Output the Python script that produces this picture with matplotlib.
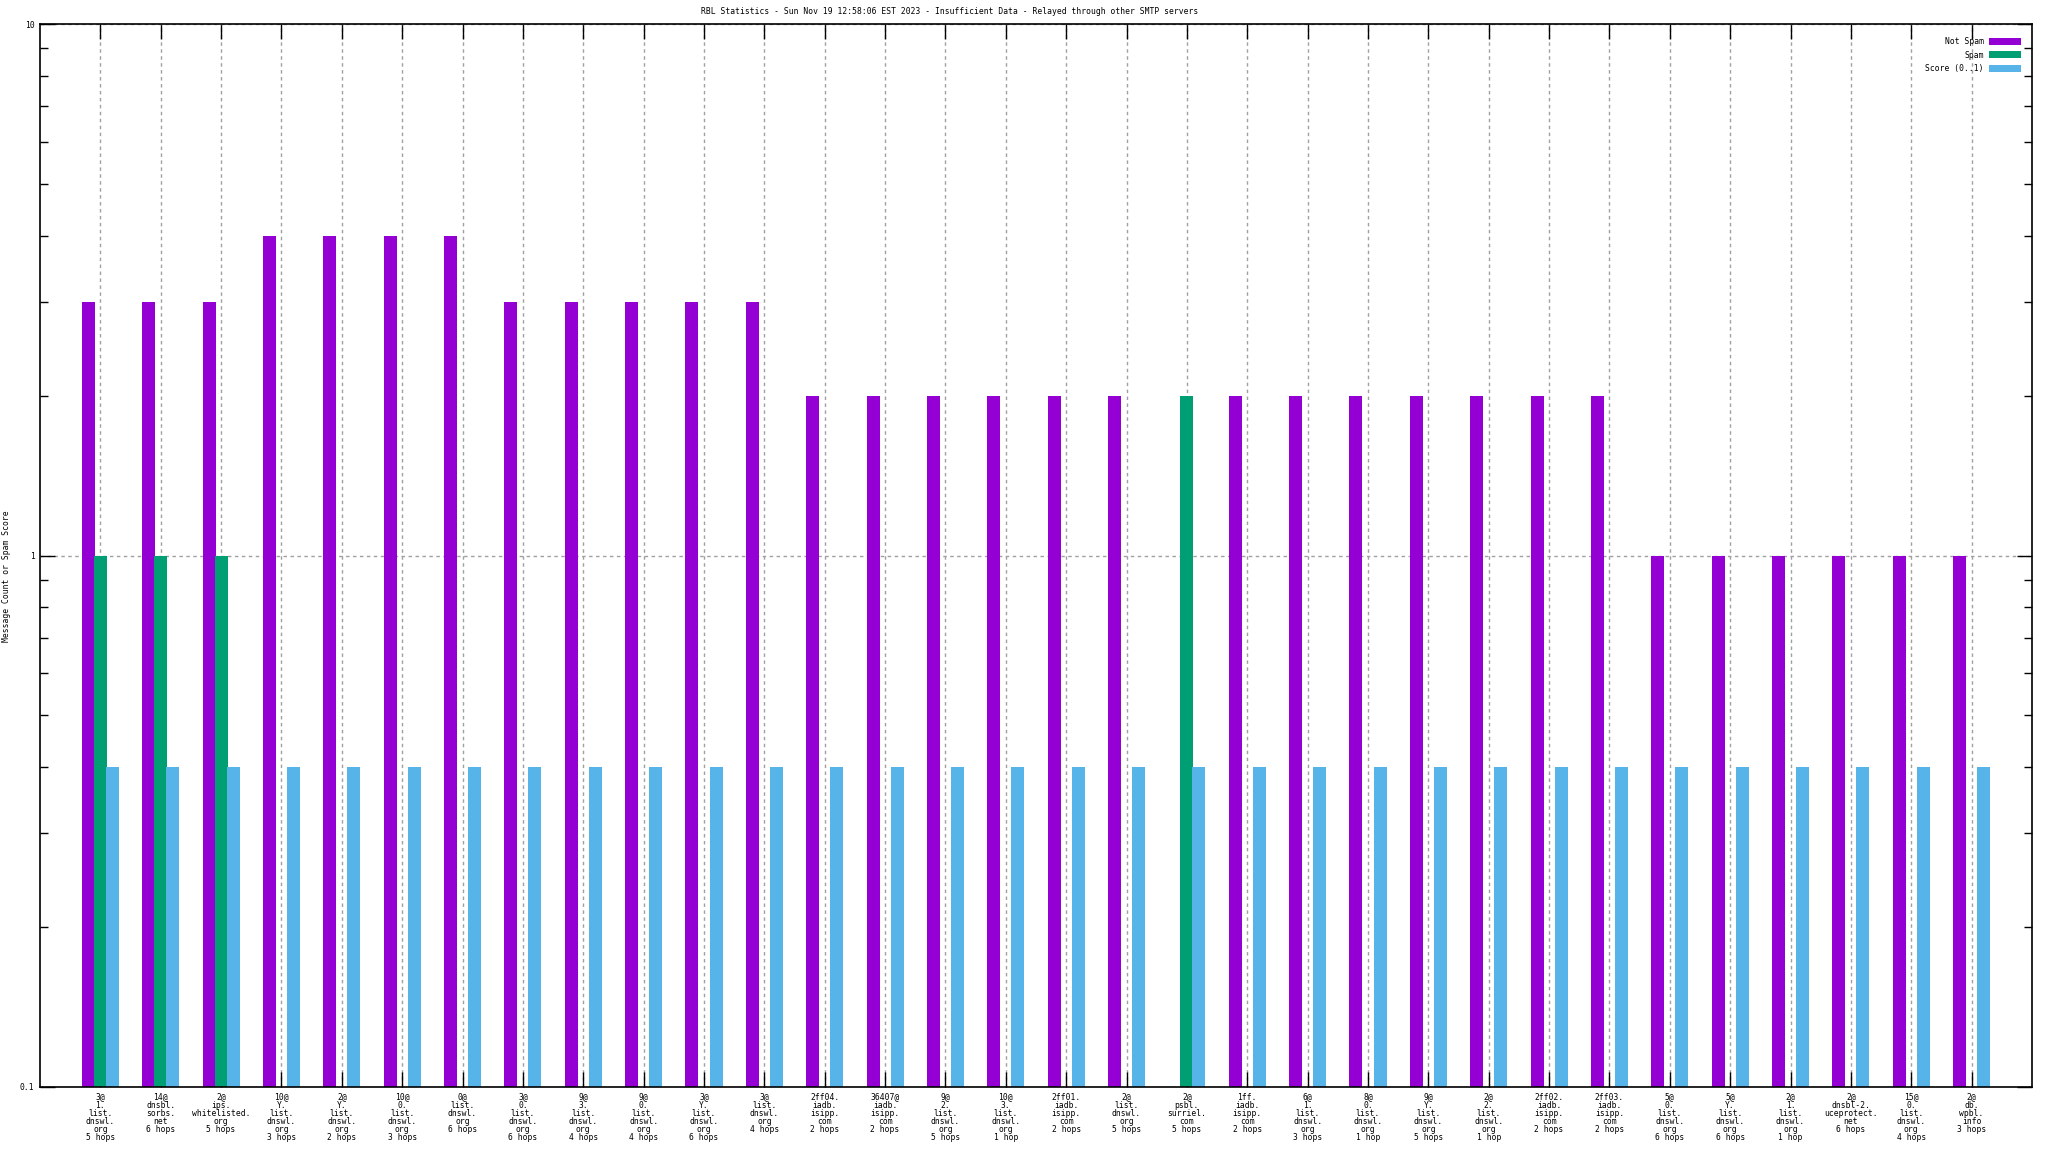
import numpy as np
import matplotlib
matplotlib.use('Agg')
from matplotlib import pyplot as plt
from matplotlib.ticker import LogLocator, NullFormatter, FixedLocator

plt.rcParams['font.family'] = ['DejaVu Sans Mono']

labels = [
    "3@\n1.\nlist.\ndnswl.\norg\n5 hops",
    "14@\ndnsbl.\nsorbs.\nnet\n6 hops",
    "2@\nips.\nwhitelisted.\norg\n5 hops",
    "10@\nY.\nlist.\ndnswl.\norg\n3 hops",
    "2@\nY.\nlist.\ndnswl.\norg\n2 hops",
    "10@\n0.\nlist.\ndnswl.\norg\n3 hops",
    "0@\nlist.\ndnswl.\norg\n6 hops",
    "3@\n0.\nlist.\ndnswl.\norg\n6 hops",
    "9@\n3.\nlist.\ndnswl.\norg\n4 hops",
    "9@\n0.\nlist.\ndnswl.\norg\n4 hops",
    "3@\nY.\nlist.\ndnswl.\norg\n6 hops",
    "3@\nlist.\ndnswl.\norg\n4 hops",
    "2ff04.\niadb.\nisipp.\ncom\n2 hops",
    "36407@\niadb.\nisipp.\ncom\n2 hops",
    "9@\n2.\nlist.\ndnswl.\norg\n5 hops",
    "10@\n3.\nlist.\ndnswl.\norg\n1 hop",
    "2ff01.\niadb.\nisipp.\ncom\n2 hops",
    "2@\nlist.\ndnswl.\norg\n5 hops",
    "2@\npsbl.\nsurriel.\ncom\n5 hops",
    "1ff.\niadb.\nisipp.\ncom\n2 hops",
    "6@\n1.\nlist.\ndnswl.\norg\n3 hops",
    "8@\n0.\nlist.\ndnswl.\norg\n1 hop",
    "9@\nY.\nlist.\ndnswl.\norg\n5 hops",
    "2@\n2.\nlist.\ndnswl.\norg\n1 hop",
    "2ff02.\niadb.\nisipp.\ncom\n2 hops",
    "2ff03.\niadb.\nisipp.\ncom\n2 hops",
    "5@\n0.\nlist.\ndnswl.\norg\n6 hops",
    "5@\nY.\nlist.\ndnswl.\norg\n6 hops",
    "2@\n1.\nlist.\ndnswl.\norg\n1 hop",
    "2@\ndnsbl-2.\nuceprotect.\nnet\n6 hops",
    "15@\n0.\nlist.\ndnswl.\norg\n4 hops",
    "2@\ndb.\nwpbl.\ninfo\n3 hops",
]

not_spam = [3, 3, 3, 4, 4, 4, 4, 3, 3, 3, 3, 3, 2, 2, 2, 2, 2, 2, 0,
            2, 2, 2, 2, 2, 2, 2, 1, 1, 1, 1, 1, 1]
spam = [1, 1, 1, 0, 0, 0, 0, 0, 0, 0, 0, 0, 0, 0, 0, 0, 0, 0, 2,
        0, 0, 0, 0, 0, 0, 0, 0, 0, 0, 0, 0, 0]
score = [0.4] * 32

title = "RBL Statistics - Sun Nov 19 12:58:06 EST 2023 - Insufficient Data - Relayed through other SMTP servers"

c_not = '#9400d3'
c_spam = '#009e73'
c_score = '#56b4e9'

fig = plt.figure(figsize=(20.48, 11.52), dpi=100)
ax = fig.add_axes([40/2048, 65/1152, 1992/2048, 1063/1152])

x = np.arange(len(labels))
w = 0.215
off = 0.2
ax.bar(x - off, not_spam, w, color=c_not, label='Not Spam', zorder=2)
ax.bar(x, spam, w, color=c_spam, label='Spam', zorder=2)
ax.bar(x + off, score, w, color=c_score, label='Score (0..1)', zorder=2)

ax.set_yscale('log')
ax.set_ylim(0.1, 10)
ax.set_xlim(-1, len(labels))

ax.yaxis.set_major_locator(FixedLocator([0.1, 1, 10]))
ax.set_yticklabels(['0.1', '1', '10'])
ax.yaxis.set_minor_locator(LogLocator(base=10, subs=np.arange(2, 10)))
ax.yaxis.set_minor_formatter(NullFormatter())

ax.set_xticks(x)
ax.set_xticklabels(labels, fontsize=5.8, linespacing=0.88, va='top')

ax.tick_params(axis='both', which='major', direction='in', length=11, width=1,
               top=True, right=True, labelsize=5.8, pad=4)
ax.tick_params(axis='both', which='minor', direction='in', length=5.5, width=1,
               top=True, right=True)

ax.grid(True, which='major', color='#a0a0a0', linestyle=(0, (2.5, 2.5)), linewidth=1, zorder=0)
ax.set_axisbelow(True)
for s in ax.spines.values():
    s.set_linewidth(1.2)

fig.text(950/2048, 1 - 12/1152, title, ha='center', va='center', fontsize=5.8)
fig.text(7/2048, 0.5, 'Message Count or Spam Score', rotation=90, ha='center', va='center', fontsize=5.8)

leg = ax.legend(loc='upper right', frameon=False, fontsize=5.8, markerfirst=False,
                handlelength=4.0, handleheight=1.0, labelspacing=0.55, handletextpad=0.6,
                bbox_to_anchor=(1 - 8/1992, 1 - 10/1063), borderaxespad=0)

fig.savefig('out.png', dpi=100)
